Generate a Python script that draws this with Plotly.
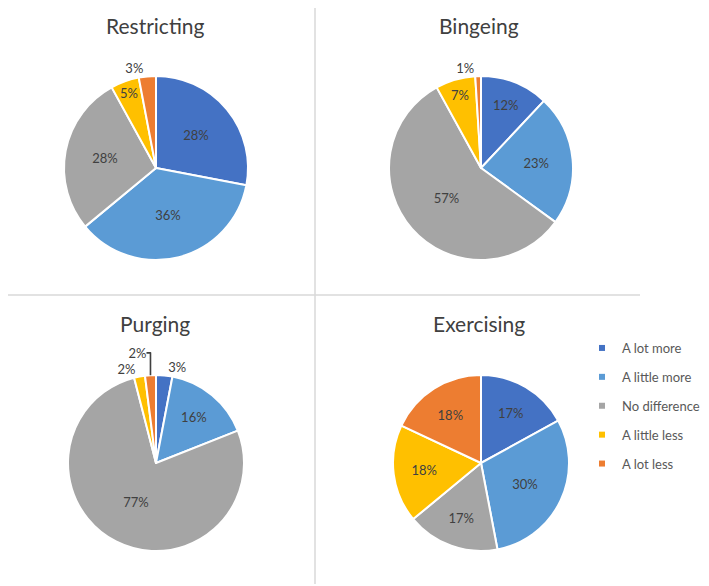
import plotly.graph_objects as go

# target picture size; the page body adds an 8px offset, so the figure is drawn
# 8px smaller and page-pixel positions are converted with that offset
PW, PH = 709, 586
OFF = 8
W, H = PW - OFF, PH - OFF

categories = ["A lot more", "A little more", "No difference", "A little less", "A lot less"]
colors = ["#4472C4", "#5B9BD5", "#A5A5A5", "#FFC000", "#ED7D31"]

restricting = [28, 36, 28, 5, 3]
bingeing = [12, 23, 57, 7, 1]
purging = [3, 16, 77, 2, 2]
exercising = [17, 30, 17, 18, 18]

titles = ["Restricting", "Bingeing", "Purging", "Exercising"]
series = [restricting, bingeing, purging, exercising]


def fx(px):
    return (px - OFF) / W


def fy(py):
    return 1 - (py - OFF) / H


# layout: page-pixel centre and radius for each pie
centers = [(156, 168, 92), (481, 168, 92), (156, 463, 88), (481, 463, 88)]
title_pos = [(155, 25), (479, 25), (155, 323), (479, 323)]

FONT = "Lato"

fig = go.Figure()
for i, (vals, (cx, cy, r)) in enumerate(zip(series, centers)):
    positions = ["inside" if v >= 5 else "outside" for v in vals]
    fig.add_trace(go.Pie(
        labels=categories,
        values=vals,
        sort=False,
        direction="clockwise",
        rotation=0,
        marker=dict(colors=colors, line=dict(color="white", width=2)),
        texttemplate="%{value}%",
        textposition=positions,
        insidetextorientation="horizontal",
        textfont=dict(family=FONT, size=13, color="#404040"),
        hoverinfo="label+percent",
        showlegend=False,
        domain=dict(x=[fx(cx - r), fx(cx + r)], y=[fy(cy + r), fy(cy - r)]),
    ))

# legend entries (one per category)
for k, (cat, col) in enumerate(zip(categories, colors)):
    fig.add_trace(go.Scatter(
        x=[None], y=[None], mode="markers", name=cat,
        marker=dict(symbol="square", size=6, color=col),
        legendgroup=f"g{k}", showlegend=True, hoverinfo="skip",
    ))

annotations = []
for t, (x, y) in zip(titles, title_pos):
    annotations.append(dict(
        text=t, x=fx(x), y=fy(y), xref="paper", yref="paper",
        showarrow=False, xanchor="center", yanchor="middle",
        font=dict(family=FONT, size=21, color="#404040"),
    ))

line_col = "#D9D9D9"
shapes = [
    dict(type="line", xref="paper", yref="paper", x0=fx(315), x1=fx(315), y0=fy(584), y1=1,
         line=dict(color=line_col, width=1.5)),
    dict(type="line", xref="paper", yref="paper", x0=0, x1=fx(640), y0=fy(295), y1=fy(295),
         line=dict(color=line_col, width=1.5)),
]

fig.update_layout(
    width=W, height=H,
    margin=dict(l=0, r=0, t=0, b=0, autoexpand=False),
    paper_bgcolor="white",
    plot_bgcolor="white",
    xaxis=dict(visible=False),
    yaxis=dict(visible=False),
    annotations=annotations,
    shapes=shapes,
    legend=dict(
        x=fx(582), y=fy(333), xanchor="left", yanchor="top",
        font=dict(family=FONT, size=13, color="#595959"),
        itemwidth=30,
        traceorder="grouped",
        tracegroupgap=9,
        bgcolor="rgba(0,0,0,0)",
    ),
)

fig.write_html("out.html")
